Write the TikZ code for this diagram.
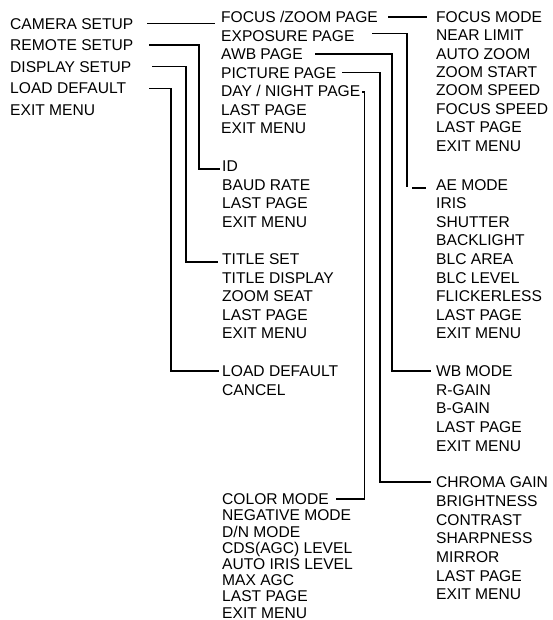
\documentclass[tikz,border=0pt]{standalone}
\usepackage{fontspec}
\setmainfont{Liberation Sans}
\begin{document}
\begin{tikzpicture}[x=1pt,y=-1pt,
  item/.style={anchor=west,inner sep=0pt,text height=11.2pt,text depth=0pt,
    font=\fontsize{15.6}{18}\selectfont},
  conn/.style={line width=1.2pt}]
\useasboundingbox (0,0) rectangle (552,620);
% main menu
\foreach \t [count=\i from 0] in {CAMERA SETUP,REMOTE SETUP,DISPLAY SETUP,LOAD DEFAULT,EXIT MENU}
  \node[item] (m\i) at (10,{23.5+21.6*\i}) {\t};
% camera setup
\foreach \t [count=\i from 0] in {FOCUS /ZOOM PAGE,EXPOSURE PAGE,AWB PAGE,PICTURE PAGE,DAY / NIGHT PAGE,LAST PAGE,EXIT MENU}
  \node[item] (cs\i) at (221,{17+18.5*\i}) {\t};
% focus / zoom page
\foreach \t [count=\i from 0] in {FOCUS MODE,NEAR LIMIT,AUTO ZOOM,ZOOM START,ZOOM SPEED,FOCUS SPEED,LAST PAGE,EXIT MENU}
  \node[item] (fz\i) at (436,{17+18.35*\i}) {\t};
% remote setup
\foreach \t [count=\i from 0] in {ID,BAUD RATE,LAST PAGE,EXIT MENU}
  \node[item] (id\i) at (222,{166+18.6*\i}) {\t};
% display setup
\foreach \t [count=\i from 0] in {TITLE SET,TITLE DISPLAY,ZOOM SEAT,LAST PAGE,EXIT MENU}
  \node[item] (t\i) at (222,{259+18.5*\i}) {\t};
% load default
\foreach \t [count=\i from 0] in {LOAD DEFAULT,CANCEL}
  \node[item] (l\i) at (222,{371+18.5*\i}) {\t};
% exposure page
\foreach \t [count=\i from 0] in {AE MODE,IRIS,SHUTTER,BACKLIGHT,BLC AREA,BLC LEVEL,FLICKERLESS,LAST PAGE,EXIT MENU}
  \node[item] (ae\i) at (436,{184.5+18.6*\i}) {\t};
% awb page
\foreach \t [count=\i from 0] in {WB MODE,R-GAIN,B-GAIN,LAST PAGE,EXIT MENU}
  \node[item] (wb\i) at (436,{371+18.6*\i}) {\t};
% picture page
\foreach \t [count=\i from 0] in {CHROMA GAIN,BRIGHTNESS,CONTRAST,SHARPNESS,MIRROR,LAST PAGE,EXIT MENU}
  \node[item] (ch\i) at (436,{482+18.7*\i}) {\t};
% day / night page
\foreach \t [count=\i from 0] in {COLOR MODE,NEGATIVE MODE,D/N MODE,CDS(AGC) LEVEL,AUTO IRIS LEVEL,MAX AGC,LAST PAGE,EXIT MENU}
  \node[item] (co\i) at (222,{499+16.2*\i}) {\t};
% connectors from main menu
\draw[conn] (m0.east -| 147,0) -- ([xshift=-6pt]m0.east -| cs0.west);
\draw[conn] (m1.east -| 149,0) -| ([yshift=-3pt]id0.west -| 199,0) -- ([xshift=-2pt,yshift=-3pt]id0.west);
\draw[conn] (m2.east -| 152,0) -| ([yshift=-3pt]t0.west -| 186,0) -- ([xshift=-4pt,yshift=-3pt]t0.west);
\draw[conn] (m3.east -| 149,0) -| (l0.west -| 171,0) -- ([xshift=-3pt]l0.west);
% connectors from camera setup
\draw[conn] (cs0.east -| 388,0) -- ([xshift=-9pt]cs0.east -| fz0.west);
\draw[conn] ([yshift=2pt]cs1.east -| 372,0) -| ([yshift=-2.5pt]ae0.west -| 407,0);
\draw[conn] ([xshift=-24pt,yshift=-3.5pt]ae0.west) -- ([xshift=-10pt,yshift=-3.5pt]ae0.west);
\draw[conn] (cs2.east -| 315,0) -| (wb0.west -| 392,0) -- ([xshift=-5pt]wb0.west);
\draw[conn] (cs3.east -| 342,0) -| (ch0.west -| 380,0) -- ([xshift=-5pt]ch0.west);
\draw[conn] ([yshift=-1pt]cs4.east -| 362,0) -| (co0.east -| 364.5,0) -- ([xshift=7pt]co0.east);
\end{tikzpicture}
\end{document}
